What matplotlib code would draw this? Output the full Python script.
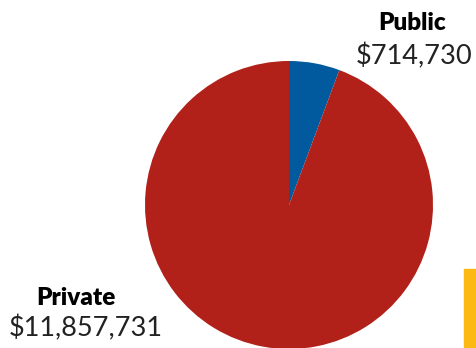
import matplotlib.pyplot as plt

labels = ["Public", "Private"]
amounts = [714730, 11857731]
colors = ["#015A9E", "#B12119"]

W, H = 476, 348
fig = plt.figure(figsize=(W / 100, H / 100), dpi=100)

# pie axes placed in pixel terms: circle spans x 145..433, y 61..349
left, top, size = 145, 61, 288
ax = fig.add_axes([left / W, (H - top - size) / H, size / W, size / H])
ax.pie(amounts, colors=colors, startangle=90, counterclock=False,
       radius=1, wedgeprops=dict(linewidth=0))
ax.set_xlim(-1, 1)
ax.set_ylim(-1, 1)
ax.set_aspect("equal")
ax.axis("off")


def px(x, y):
    return x / W, 1 - y / H


font = "Lato"
fig.text(*px(412, 23), labels[0], ha="center", va="center",
         fontsize=17.5, fontweight="heavy", family=font)
fig.text(*px(414, 56), "${:,}".format(amounts[0]), ha="center", va="center",
         fontsize=19.5, family=font, color="#222222")
fig.text(*px(76, 298), labels[1], ha="center", va="center",
         fontsize=17.5, fontweight="heavy", family=font)
fig.text(*px(86, 328), "${:,}".format(amounts[1]), ha="center", va="center",
         fontsize=19.5, family=font, color="#222222")

# yellow bar at the lower right edge
fig.patches.append(plt.Rectangle(px(464, 348), 12 / W, 79 / H,
                                 transform=fig.transFigure,
                                 color="#FDB913", zorder=0))

fig.savefig("out.png", dpi=100)
